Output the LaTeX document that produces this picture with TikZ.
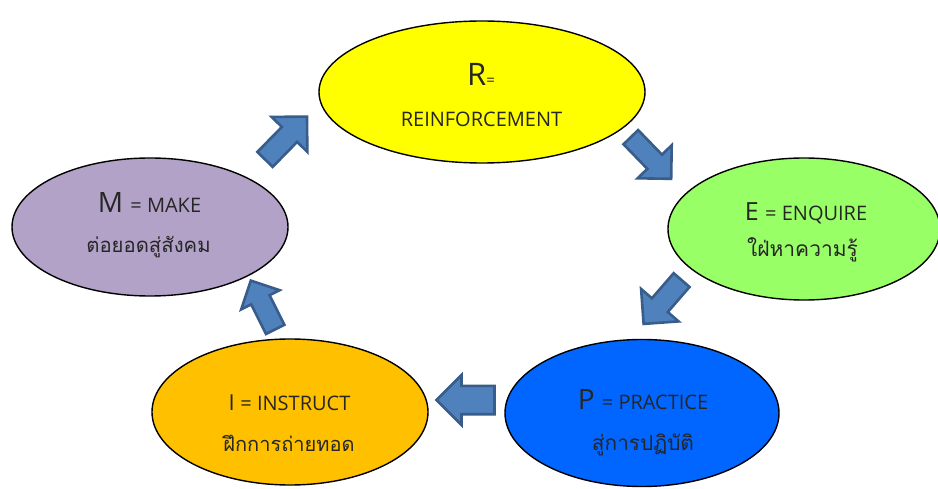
\documentclass[tikz,border=0pt]{standalone}
\usepackage{fontspec}
\setmainfont{Open Sans}
\newfontfamily\thaifont[Script=Thai]{Loma}
\usetikzlibrary{shapes.geometric}
\definecolor{cR}{HTML}{FFFF00}
\definecolor{cE}{HTML}{99FF66}
\definecolor{cM}{HTML}{B3A2C7}
\definecolor{cP}{HTML}{0066FF}
\definecolor{cI}{HTML}{FFC000}
\definecolor{arrowfill}{HTML}{4F81BD}
\definecolor{arrowline}{HTML}{385D8A}
\newcommand{\setfs}[1]{\fontsize{#1}{#1}\selectfont}
\tikzset{
  stage/.style={ellipse, draw=black, line width=1.4pt, inner sep=0pt},
  blockarrowstyle/.style={draw=arrowline, fill=arrowfill, line width=2.6pt, line join=miter},
  lbl/.style={anchor=base, inner sep=0pt, text=black!85}
}
% #1 centre, #2 angle, #3 length, #4 head width, #5 shaft width
\newcommand{\drawblockarrow}[5]{%
  \begin{scope}[shift={#1}, rotate=#2]
    \pgfmathsetmacro\ahL{#3/2}\pgfmathsetmacro\ahW{#4/2}%
    \pgfmathsetmacro\ahS{#5/2}\pgfmathsetmacro\ahB{#3/2-#4/2}%
    \draw[blockarrowstyle] (-\ahL,-\ahS) -- (\ahB,-\ahS) -- (\ahB,-\ahW) -- (\ahL,0)
      -- (\ahB,\ahW) -- (\ahB,\ahS) -- (-\ahL,\ahS) -- cycle;
  \end{scope}}
\begin{document}
\begin{tikzpicture}[x=1pt,y=-1pt]
\useasboundingbox (0,0) rectangle (938,489);
\fill[white] (0,0) rectangle (938,489);
% stages
\node[stage, fill=cR, minimum width=326pt, minimum height=142pt] (R) at (482,92) {};
\node[stage, fill=cE, minimum width=272pt, minimum height=142pt] (E) at (804,229) {};
\node[stage, fill=cM, minimum width=276pt, minimum height=138pt] (M) at (150,227) {};
\node[stage, fill=cP, minimum width=274pt, minimum height=147pt] (P) at (642,413) {};
\node[stage, fill=cI, minimum width=276pt, minimum height=146pt] (I) at (290,412) {};
% labels
\node[lbl] (Rt1) at (481,86) {\setfs{31}R\setfs{15}=};
\node[lbl] (Rt2) at (481.5,126.7) {\setfs{20}REINFORCEMENT};
\node[lbl] (Et1) at (806,221) {\setfs{25}E\ \setfs{20}=\ ENQUIRE};
\node[lbl] (Et2) at (802.5,257) {\thaifont\setfs{21}ใฝ่หาความรู้};
\node[lbl] (Mt1) at (149.5,213) {\setfs{28}M\ \setfs{20}=\ MAKE};
\node[lbl] (Mt2) at (148.5,253) {\thaifont\setfs{20.3}ต่อยอดสู่สังคม};
\node[lbl] (Pt1) at (643,409) {\setfs{28}P\ \setfs{20}=\ PRACTICE};
\node[lbl] (Pt2) at (643,450) {\thaifont\setfs{20.8}สู่การปฏิบัติ};
\node[lbl] (It1) at (289.5,410.7) {\setfs{22}I\ \setfs{20}=\ INSTRUCT};
\node[lbl] (It2) at (289,451.7) {\thaifont\setfs{20}ฝึกการถ่ายทอด};
% block arrows between stages
\drawblockarrow{(286,138)}{45.6}{60}{50}{21.4}
\drawblockarrow{(651,158)}{-45.9}{58}{47.5}{20.4}
\drawblockarrow{(662.6,302)}{-130.9}{58}{49.6}{21}
\drawblockarrow{(465.5,400)}{180}{58}{50}{28.4}
\drawblockarrow{(263,305)}{116.6}{54.6}{43}{20.6}
\end{tikzpicture}
\end{document}
